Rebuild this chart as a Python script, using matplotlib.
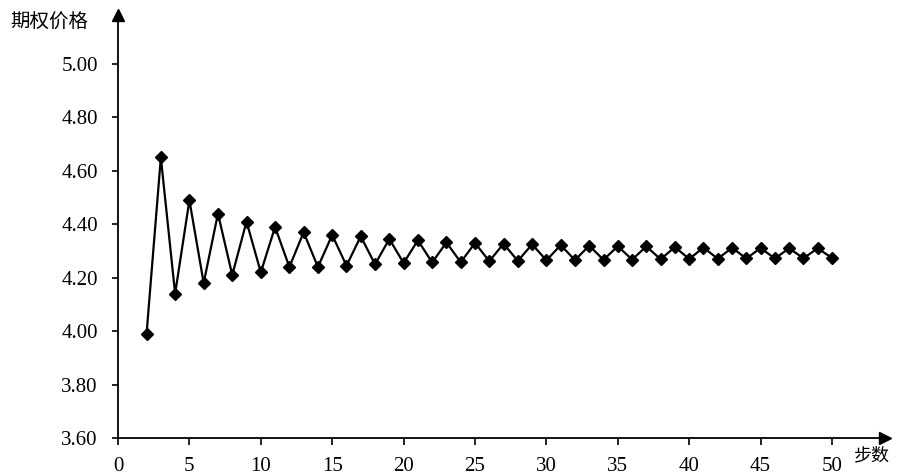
import matplotlib
matplotlib.use("Agg")
import matplotlib.pyplot as plt

steps = list(range(2, 51))
prices = [3.99, 4.65, 4.14, 4.49, 4.18, 4.44, 4.21, 4.41, 4.22, 4.39,
          4.24, 4.37, 4.24, 4.36, 4.245, 4.355, 4.25, 4.345, 4.255, 4.34,
          4.257, 4.332, 4.258, 4.330, 4.262, 4.327, 4.263, 4.325, 4.265, 4.322,
          4.266, 4.320, 4.267, 4.318, 4.268, 4.317, 4.269, 4.315, 4.270, 4.313,
          4.271, 4.312, 4.272, 4.311, 4.272, 4.310, 4.273, 4.310, 4.274]
xticks = list(range(0, 51, 5))
yticks = [3.60, 3.80, 4.00, 4.20, 4.40, 4.60, 4.80, 5.00]
ylabel = "期权价格"
xlabel = "步数"

W, H = 897, 475
fig = plt.figure(figsize=(W / 100, H / 100), dpi=100)
left_px, right_px, bottom_px, top_px = 118, 885, 438, 15
ax = fig.add_axes([left_px / W, 1 - bottom_px / H,
                   (right_px - left_px) / W, (bottom_px - top_px) / H])

px_per_x = (832 - 118) / 50
px_per_y = (438 - 64) / 1.4
ax.set_xlim(0, (right_px - left_px) / px_per_x)
ax.set_ylim(3.60, 3.60 + (bottom_px - top_px) / px_per_y)

ax.plot(steps, prices, color="black", lw=1.6, marker="D", ms=6,
        mfc="black", mec="black", clip_on=False)

for s in ["top", "right"]:
    ax.spines[s].set_visible(False)
for s in ["left", "bottom"]:
    ax.spines[s].set_linewidth(1.3)

ax.plot([1], [0], marker=">", ms=9, color="black", transform=ax.transAxes,
        clip_on=False)
ax.plot([0], [1], marker="^", ms=9, color="black", transform=ax.transAxes,
        clip_on=False)

serif = "Liberation Serif"
ax.set_xticks(xticks)
ax.set_xticklabels([str(t) for t in xticks], fontfamily=serif, fontsize=15)
ax.set_yticks(yticks)
ax.set_yticklabels([f"{t:.2f}" for t in yticks], fontfamily=serif, fontsize=15)
ax.tick_params(axis="both", direction="out", width=1.2, colors="black")
ax.tick_params(axis="x", length=5, pad=9)
ax.tick_params(axis="y", length=4.5, pad=10)

cjk = ["Noto Sans CJK SC", "DejaVu Sans"]
fig.text(10 / W, 1 - 22 / H, ylabel, family=cjk, fontsize=14,
         ha="left", va="center")
fig.text(853 / W, 1 - 455 / H, xlabel, family=cjk, fontsize=13,
         ha="left", va="center")

fig.savefig("out.png", dpi=100, facecolor="white")
